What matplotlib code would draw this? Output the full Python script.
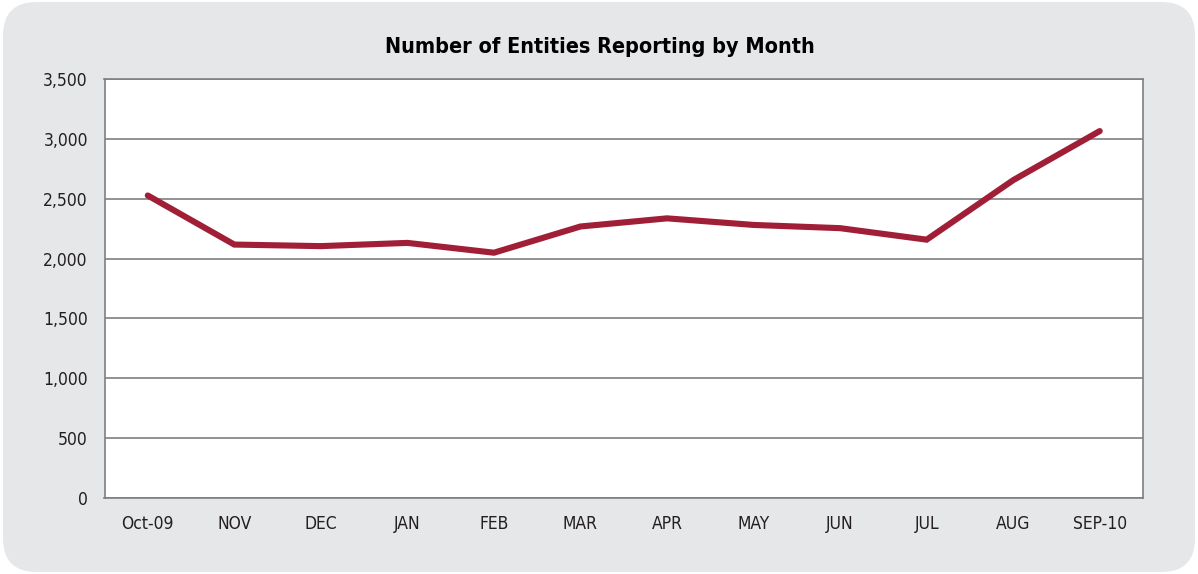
import matplotlib.pyplot as plt
from matplotlib.patches import FancyBboxPatch

months = ['Oct-09', 'NOV', 'DEC', 'JAN', 'FEB', 'MAR', 'APR', 'MAY', 'JUN', 'JUL', 'AUG', 'SEP-10']
entities = [2527, 2117, 2104, 2131, 2049, 2268, 2336, 2281, 2254, 2158, 2655, 3065]
y_ticks = [0, 500, 1000, 1500, 2000, 2500, 3000, 3500]

plt.rcParams['font.family'] = ['DejaVu Sans']
plt.rcParams['font.stretch'] = 'condensed'

W, H = 1198, 574
fig = plt.figure(figsize=(W / 100, H / 100), dpi=100)
fig.patch.set_facecolor('white')

# rounded grey panel behind the chart
panel = FancyBboxPatch((3 / W, 2 / H), 1192 / W, 570 / H,
                       boxstyle='round,pad=0,rounding_size=0.028',
                       transform=fig.transFigure, facecolor='#e6e7e9',
                       edgecolor='none', mutation_aspect=W / H, zorder=-1)
fig.patches.append(panel)

ax = fig.add_axes([104.5 / W, 76 / H, 1038.5 / W, 419 / H])
ax.set_zorder(1)
ax.set_facecolor('white')
x = range(len(months))
ax.plot(x, entities, color='#a01f37', linewidth=4.4, solid_capstyle='round',
        solid_joinstyle='miter', zorder=3)

ax.set_xlim(-0.5, len(months) - 0.5)
ax.set_ylim(0, 3500)
ax.set_yticks(y_ticks)
ax.set_yticklabels([f'{v:,}' for v in y_ticks])
ax.set_xticks(list(x))
ax.set_xticklabels(months)
ax.yaxis.grid(True, color='#7f7f7f', linewidth=1.2)
ax.set_axisbelow(True)
for s in ax.spines.values():
    s.set_color('#7f7f7f')
    s.set_linewidth(1.2)
ax.tick_params(length=0, labelsize=12.5, colors='#231f20')
ax.tick_params(axis='y', pad=12)
ax.tick_params(axis='x', pad=12)
for lbl in ax.get_yticklabels():
    lbl.set_verticalalignment('center_baseline')

fig.text(600 / W, 1 - 47 / H, 'Number of Entities Reporting by Month',
         ha='center', va='center', fontsize=15.5, fontweight='bold', color='#000000')

fig.savefig('out.png', dpi=100)
